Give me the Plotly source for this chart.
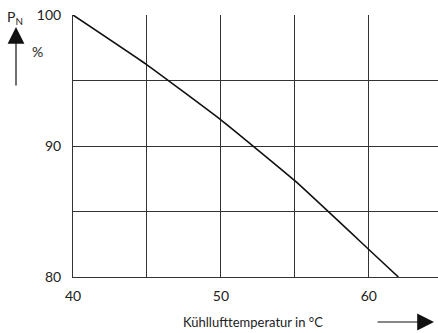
import plotly.graph_objects as go

# Data
temp_c = [40, 45, 50, 55, 60, 62]
power_pct = [100, 96.2, 92.0, 87.35, 82.1, 80]

x_ticks = [40, 45, 50, 55, 60, 65]
x_ticktext = ["40", "", "50", "", "60", ""]
y_ticks = [80, 85, 90, 95, 100]
y_ticktext = ["80", "", "90", "", "100"]

FONT = "Lato"
TXT = "#222222"
GRID = "#333333"

W, H = 438, 333
L, T, B = 73, 15, 56
PW = W - L
PH = H - T - B

def px(xp):
    return (xp - L) / PW

def py(yp):
    return (H - B - yp) / PH

fig = go.Figure()
fig.add_trace(go.Scatter(
    x=temp_c, y=power_pct, mode="lines",
    line=dict(color="#111111", width=1.6, shape="spline", smoothing=0.35),
    hoverinfo="skip", showlegend=False,
))

fig.update_layout(
    width=W, height=H,
    margin=dict(l=L, r=0, t=T, b=B, autoexpand=False),
    paper_bgcolor="white", plot_bgcolor="white",
    font=dict(family=FONT, size=14, color=TXT),
    xaxis=dict(
        range=[40, 64.68], tickvals=x_ticks, ticktext=x_ticktext,
        showgrid=True, gridcolor=GRID, gridwidth=1,
        showline=True, linecolor=GRID, linewidth=1,
        zeroline=False, ticks="outside", ticklen=6, tickcolor="rgba(0,0,0,0)",
        automargin=False,
        tickfont=dict(family=FONT, size=14, color=TXT),
    ),
    yaxis=dict(
        range=[80, 100], tickvals=y_ticks, ticktext=y_ticktext,
        showgrid=True, gridcolor=GRID, gridwidth=1,
        showline=True, linecolor=GRID, linewidth=1,
        zeroline=False, ticks="outside", ticklen=8, tickcolor="rgba(0,0,0,0)",
        automargin=False,
        tickfont=dict(family=FONT, size=14, color=TXT),
    ),
    annotations=[
        dict(text="P<sub>N</sub>", x=px(5), y=py(17), xref="paper", yref="paper",
             xanchor="left", yanchor="middle", showarrow=False,
             font=dict(family=FONT, size=14, color=TXT)),
        dict(text="%", x=px(37), y=py(52), xref="paper", yref="paper",
             xanchor="center", yanchor="middle", showarrow=False,
             font=dict(family=FONT, size=14, color=TXT)),
        dict(text="", x=px(16), y=py(27), xref="paper", yref="paper",
             ax=0, ay=60, axref="pixel", ayref="pixel",
             showarrow=True, arrowhead=2, arrowsize=2.8, arrowwidth=1.2,
             arrowcolor="#111111"),
        dict(text="Kühllufttemperatur in °C", x=px(253), y=py(322),
             xref="paper", yref="paper", xanchor="center", yanchor="middle",
             showarrow=False, font=dict(family=FONT, size=13, color=TXT)),
        dict(text="", x=px(434), y=py(322), xref="paper", yref="paper",
             ax=-58, ay=0, axref="pixel", ayref="pixel",
             showarrow=True, arrowhead=2, arrowsize=2.8, arrowwidth=1.2,
             arrowcolor="#111111"),
    ],
)

fig.write_html(
    "out.html",
    config={"displayModeBar": False},
    post_script="document.body.style.margin='0';document.body.style.overflow='hidden';",
)
